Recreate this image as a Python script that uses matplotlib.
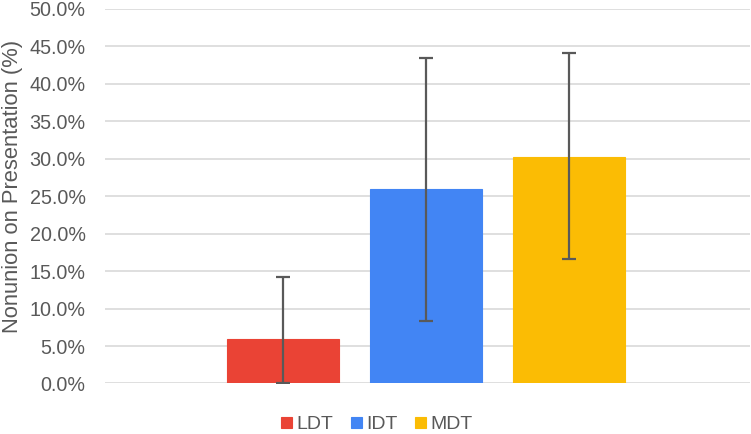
import numpy as np
import matplotlib
matplotlib.use("Agg")
import matplotlib.pyplot as plt
from matplotlib.ticker import FuncFormatter

# values (percent)
groups = ["LDT", "IDT", "MDT"]
rates = [5.9, 25.9, 30.3]
ci_low = [0.0, 8.3, 16.6]
ci_high = [14.2, 43.5, 44.1]
colors = ["#EA4335", "#4285F4", "#FBBC04"]

plt.rcParams["font.family"] = ["Liberation Sans", "DejaVu Sans"]

fig = plt.figure(figsize=(7.51, 4.34), dpi=100)
ax = fig.add_axes([0.1398, 0.1164, 0.859, 0.863])

x = np.arange(len(groups))
lower = np.array(rates) - np.array(ci_low)
upper = np.array(ci_high) - np.array(rates)

for i in range(len(groups)):
    ax.bar(x[i], rates[i], width=0.785, color=colors[i], label=groups[i],
           edgecolor=colors[i], linewidth=0.8, zorder=2)
ax.errorbar(x, rates, yerr=[lower, upper], fmt="none", ecolor="#595959",
            elinewidth=1.6, capsize=5, capthick=1.6, zorder=3)

ax.set_xlim(-1.25, 3.27)
ax.set_ylim(0, 50)
ax.set_yticks(np.arange(0, 50.1, 5))
ax.yaxis.set_major_formatter(FuncFormatter(lambda v, p: f"{v:.1f}%"))
ax.set_xticks([])
ax.grid(axis="y", color="#D9D9D9", linewidth=1.2, zorder=0)
ax.set_axisbelow(True)
for s in ax.spines.values():
    s.set_visible(False)
ax.tick_params(axis="y", length=0, pad=14, labelsize=14.2, labelcolor="#595959")
ax.set_ylabel("Nonunion on Presentation (%)", fontsize=15.8, color="#595959")
ax.yaxis.set_label_coords(-0.127, 0.526)

handles, labels = ax.get_legend_handles_labels()
leg = fig.legend(handles, labels, loc="center", bbox_to_anchor=(0.502, 0.021), ncol=3,
                 frameon=False, fontsize=14, handlelength=0.55, handleheight=0.55,
                 handletextpad=0.25, columnspacing=0.9, borderaxespad=0)
for t in leg.get_texts():
    t.set_color("#595959")

fig.savefig("out.png", dpi=100)
